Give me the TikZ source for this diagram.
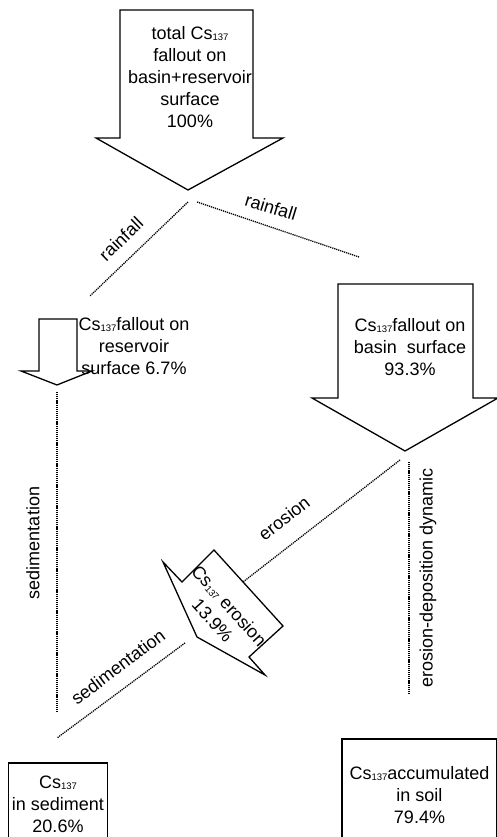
\documentclass[tikz,border=0pt]{standalone}
\usepackage{fontspec}
\setmainfont{Liberation Sans}
\usetikzlibrary{positioning}

\newcommand{\csiso}{Cs\raisebox{-1pt}{\fontsize{9.5}{10}\selectfont 137}}

\begin{document}
\begin{tikzpicture}[
    x=1pt, y=1pt,
    % Stili
    blockarrow/.style={
        draw, line width=1.3pt, line join=miter, fill=white
    },
    flowtext/.style={
        font=\fontsize{18}{22}\selectfont, align=center, inner sep=0pt
    },
    flowline/.style={line width=1.3pt, dash pattern=on 1.2pt off 0.9pt},
    tag/.style={font=\fontsize{18}{20}\selectfont, inner sep=0pt},
    store/.style={
        rectangle, draw, line width=1.2pt,
        font=\fontsize{18}{22}\selectfont, align=center
    }
]

\fill[white] (0,0) rectangle (496,837);
\useasboundingbox (0,0) rectangle (496,837);

% Total fallout arrow
\draw[blockarrow] (120,827) -- (253,827) -- (253,699) -- (283,699)
    -- (188,647) -- (96,699) -- (120,699) -- cycle;
\node[flowtext] (total) at (190,760) {total \csiso\\fallout on\\basin+reservoir\\surface\\100\%};

% Rainfall
\coordinate (rainA) at (188,635);
\coordinate (rainB) at (90,541);
\coordinate (rainC) at (197,635);
\coordinate (rainD) at (359,580);
\draw[flowline] (rainA) -- (rainB);
\draw[flowline] (rainC) -- (rainD);
\node[tag, rotate=44] (rainleft) at (121,598) {rainfall};
\node[tag, rotate=-17] (rainright) at (271,630) {rainfall};

% Reservoir arrow
\draw[blockarrow] (39,518) -- (77,518) -- (77,466) -- (92,466)
    -- (57,452) -- (21,466) -- (39,466) -- cycle;
\node[flowtext] (reservoir) at (134,491) {\csiso fallout on\\reservoir\\surface 6.7\%};

% Basin arrow
\draw[blockarrow] (338,553) -- (473,553) -- (473,439) -- (498,439)
    -- (405,386) -- (312,439) -- (338,439) -- cycle;
\node[flowtext] (basin) at (410,490) {\csiso fallout on\\basin\ \ surface\\93.3\%};

% Sedimentation (vertical)
\coordinate (sedA) at (57,445);
\coordinate (sedB) at (57,125);
\draw[flowline] (sedA) -- (sedB);
\node[tag, rotate=90] (sedvert) at (33,294) {sedimentation};

% Erosion-deposition
\coordinate (dynA) at (409,375);
\coordinate (dynB) at (409,142);
\draw[flowline] (dynA) -- (dynB);
\node[tag, rotate=90] (dynamic) at (428,259) {erosion-deposition dynamic};

% Erosion
\coordinate (eroA) at (400,377);
\coordinate (eroB) at (243,255);
\draw[flowline] (eroA) -- (eroB);
\node[tag, rotate=38] (erolabel) at (284,319) {erosion};

% Erosion arrow
\draw[blockarrow] (182,255) -- (214,287) -- (283,211) -- (249,180)
    -- (265,162) -- (197,200) -- (163,275) -- cycle;
\node[flowtext, rotate=-48] (erosion) at (221,224) {\csiso\ erosion\\13.9\%};

% Sedimentation (diagonal)
\coordinate (sedC) at (185,194);
\coordinate (sedD) at (57,99);
\draw[flowline] (sedC) -- (sedD);
\node[tag, rotate=37] (seddiag) at (118,170) {sedimentation};

% Stores
\node[store, minimum width=98pt, minimum height=82pt] (sediment) at (58,33)
    {\csiso\\in sediment\\20.6\%};
\node[store, minimum width=155pt, minimum height=112pt] (soil) at (419.5,42)
    {\csiso accumulated\\in soil\\79.4\%};

\end{tikzpicture}
\end{document}
